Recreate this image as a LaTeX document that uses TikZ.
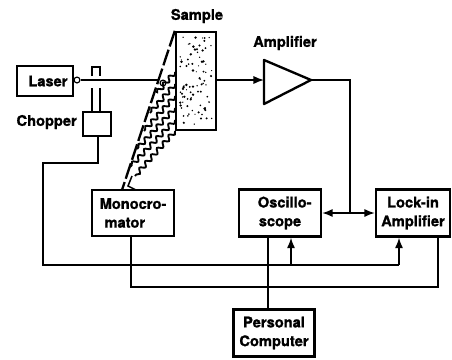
\documentclass[tikz,border=0pt]{standalone}
\usepackage{fontspec}
\setmainfont[BoldFeatures={FakeBold=1.2}]{TeX Gyre Heros}
\usetikzlibrary{arrows.meta,decorations.pathmorphing}
\tikzset{
    boxnode/.style={draw,line width=2pt,inner sep=0pt,align=center,font=\fontsize{12.5}{16}\selectfont\bfseries},
    labelnode/.style={inner sep=0pt,font=\fontsize{12.5}{15}\selectfont\bfseries},
    wire/.style={line width=1.3pt},
    wavy/.style={line width=1.6pt,decorate,decoration={snake,segment length=7.5pt,amplitude=1.9pt}}
}
\begin{document}
\begin{tikzpicture}[x=0.03cm,y=-0.03cm,>={Latex[length=9pt,width=7pt]}]
    \useasboundingbox (0,0) rectangle (452,359);

    % Appareils
    \node[boxnode,minimum width=56*0.03cm,minimum height=30*0.03cm] (laser) at (45,81) {\hspace*{5pt}Laser};
    \node[boxnode,minimum width=28*0.03cm,minimum height=24*0.03cm] (chopper) at (97,124) {};
    \node[boxnode,minimum width=40*0.03cm,minimum height=98*0.03cm] (sample) at (196,81) {};
    \node[boxnode,minimum width=82*0.03cm,minimum height=46*0.03cm] (mono) at (133,213) {Monocro-\\mator\hspace*{14pt}};
    \node[boxnode,minimum width=82*0.03cm,minimum height=47*0.03cm] (osc) at (280,213) {\hspace*{8pt}Oscillo-\\scope};
    \node[boxnode,minimum width=74*0.03cm,minimum height=47*0.03cm] (lockin) at (413,213) {Lock-in\\Amplifier};
    \node[boxnode,minimum width=81*0.03cm,minimum height=47*0.03cm] (pc) at (274,333) {Personal\\Computer};

    % Textes
    \node[labelnode] (samplelabel) at (197,16) {Sample};
    \node[labelnode] (amplabel) at (285,43) {Amplifier};
    \node[labelnode,anchor=east] (choplabel) at (77,122) {Chopper};

    % Grains de l'echantillon
    \pgfmathsetseed{11}
    \foreach \i in {1,...,85} {
        \fill (180+rnd*32,37+rnd*88) circle (0.5pt+rnd*0.7pt);
    }

    % Amplificateur
    \coordinate (ampin) at (264,80);
    \coordinate (ampout) at (311,80);
    \draw[line width=2pt,line join=round] (264,60) -- (ampout) -- (264,104) -- cycle;

    % Faisceau laser
    \node[draw,circle,line width=1pt,minimum size=5pt,inner sep=0pt] (lens) at (77,80) {};
    \node[draw,circle,line width=1pt,minimum size=5pt,inner sep=0pt] (spot) at (163,83) {};
    \draw[wire] (lens) -- (spot.west |- lens);
    \draw[wire,->] (sample.east |- ampin) -- (ampin);

    % Hacheur
    \coordinate (bladeleft) at (92,88);
    \coordinate (bladeright) at (100,88);
    \draw[wire] (chopper.north -| bladeleft) -- (bladeleft);
    \draw[wire] (chopper.north -| bladeright) -- (bladeright);
    \draw[wire] (92,76) -- (92,67) -- (100,67) -- (100,76);

    % Lumiere vers le monochromateur
    \coordinate (mono1) at (122,190);
    \coordinate (mono2) at (136,190);
    \draw[line width=2pt,dash pattern=on 14pt off 3pt] (sample.north west) -- (mono1);
    \draw[wire] (132,176) -- (128,186) -- (mono2);
    \foreach \y/\x/\v in {72/157/93,84/150/113,96/144/131,108/137/149,120/130/167,131/135/176} {
        \draw[wavy] (175,\y) -- (\x,\v);
    }

    % Liaisons
    \coordinate (ampturn) at (350,80);
    \coordinate (junction) at (350,213);
    \draw[wire] (ampout) -- (ampturn) -- (junction);
    \draw[wire,<->] (osc.east) -- (lockin.west);

    \coordinate (chopdown) at (98,163);
    \coordinate (busleft) at (43,163);
    \coordinate (buscorner) at (43,265);
    \coordinate (busosc) at (291,265);
    \coordinate (buslock) at (399,265);
    \draw[wire] (chopper.south -| chopdown) -- (chopdown) -- (busleft) -- (buscorner) -- (buslock);
    \draw[wire,->] (busosc) -- (osc.south -| busosc);
    \draw[wire,->] (buslock) -- (lockin.south -| buslock);

    \coordinate (monodown) at (131,287);
    \coordinate (lockdown) at (438,287);
    \draw[wire] (mono.south -| monodown) -- (monodown) -- (lockdown) -- (lockin.south -| lockdown);

    \coordinate (oscdown) at (268,236);
    \draw[wire] (osc.south -| oscdown) -- (pc.north -| oscdown);
\end{tikzpicture}
\end{document}
